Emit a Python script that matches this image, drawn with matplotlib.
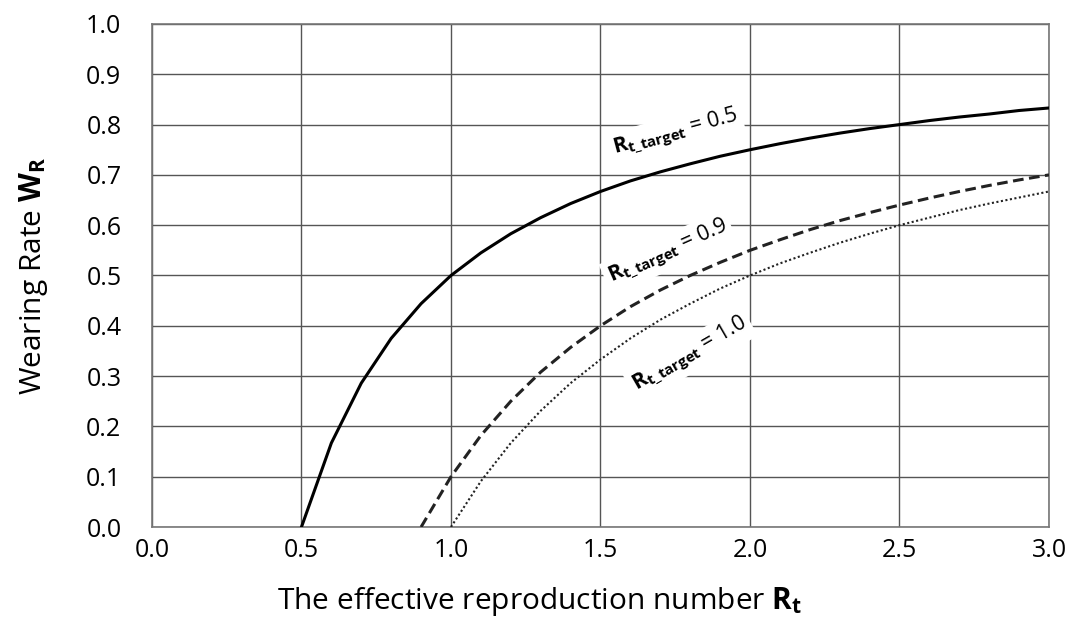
import matplotlib
matplotlib.use("Agg")
import matplotlib.pyplot as plt

plt.rcParams['font.family'] = ['Open Sans', 'DejaVu Sans']
plt.rcParams['mathtext.fontset'] = 'custom'
plt.rcParams['mathtext.rm'] = 'Open Sans'
plt.rcParams['mathtext.it'] = 'Open Sans'
plt.rcParams['mathtext.bf'] = 'Open Sans:bold'

rt_05 = [0.5, 0.6, 0.7, 0.8, 0.9, 1.0, 1.1, 1.2, 1.3, 1.4, 1.5, 1.6, 1.7, 1.8, 1.9,
         2.0, 2.1, 2.2, 2.3, 2.4, 2.5, 2.6, 2.7, 2.8, 2.9, 3.0]
wr_05 = [0.0, 0.167, 0.286, 0.375, 0.444, 0.5, 0.545, 0.583, 0.615, 0.643, 0.667, 0.688,
         0.706, 0.722, 0.737, 0.75, 0.762, 0.773, 0.783, 0.792, 0.8, 0.808, 0.815, 0.821,
         0.828, 0.833]
rt_09 = [0.9, 1.0, 1.1, 1.2, 1.3, 1.4, 1.5, 1.6, 1.7, 1.8, 1.9, 2.0, 2.1, 2.2, 2.3, 2.4,
         2.5, 2.6, 2.7, 2.8, 2.9, 3.0]
wr_09 = [0.0, 0.1, 0.182, 0.25, 0.308, 0.357, 0.4, 0.438, 0.471, 0.5, 0.526, 0.55, 0.571,
         0.591, 0.609, 0.625, 0.64, 0.654, 0.667, 0.679, 0.69, 0.7]
rt_10 = [1.0, 1.1, 1.2, 1.3, 1.4, 1.5, 1.6, 1.7, 1.8, 1.9, 2.0, 2.1, 2.2, 2.3, 2.4, 2.5,
         2.6, 2.7, 2.8, 2.9, 3.0]
wr_10 = [0.0, 0.091, 0.167, 0.231, 0.286, 0.333, 0.375, 0.412, 0.444, 0.474, 0.5, 0.524,
         0.545, 0.565, 0.583, 0.6, 0.615, 0.63, 0.643, 0.655, 0.667]

x_ticks = [0.0, 0.5, 1.0, 1.5, 2.0, 2.5, 3.0]
y_ticks = [0.0, 0.1, 0.2, 0.3, 0.4, 0.5, 0.6, 0.7, 0.8, 0.9, 1.0]
target_labels = ['0.5', '0.9', '1.0']

fig = plt.figure(figsize=(10.8, 6.31), dpi=100)
ax = fig.add_axes([0.1407, 0.1648, 0.8306, 0.7972])

ax.plot(rt_05, wr_05, color='black', lw=2.2, linestyle='-', zorder=3)
ax.plot(rt_09, wr_09, color='#222222', lw=2.2, linestyle=(0, (3.5, 1.8)), zorder=3)
ax.plot(rt_10, wr_10, color='#222222', lw=1.5, linestyle=(0, (1, 1.2)), zorder=3)

ax.set_xlim(0, 3.0)
ax.set_ylim(0, 1.0)
ax.set_xticks(x_ticks)
ax.set_yticks(y_ticks)
ax.set_xticklabels([f'{v:.1f}' for v in x_ticks])
ax.set_yticklabels([f'{v:.1f}' for v in y_ticks])
ax.tick_params(length=0, labelsize=18)
ax.tick_params(axis='x', pad=8)
ax.tick_params(axis='y', pad=22)
ax.grid(True, color='#555555', lw=1.0)
ax.set_axisbelow(True)
for s in ax.spines.values():
    s.set_color('#777777')
    s.set_linewidth(1.2)

ax.set_xlabel(r'The effective reproduction number $\mathbf{R}_{\mathbf{t}}$', fontsize=21.5, labelpad=16)
ax.xaxis.label.set_x((0.5 - 0.1407) / 0.8306)
ax.set_ylabel(r'Wearing Rate $\mathbf{W}_{\mathbf{R}}$', fontsize=21.5, labelpad=26)

label_pos = [(1.752, 0.783, 15), (1.726, 0.546, 24), (1.80, 0.342, 30)]
for (x, y, rot), t in zip(label_pos, target_labels):
    ax.text(x, y, r'$\mathbf{R}_{\mathbf{t\_target}}$ = ' + t, fontsize=15.5, rotation=rot,
            ha='center', va='center', rotation_mode='anchor', zorder=4,
            bbox=dict(facecolor='white', edgecolor='none', pad=3))

fig.savefig('out.png', dpi=100)
